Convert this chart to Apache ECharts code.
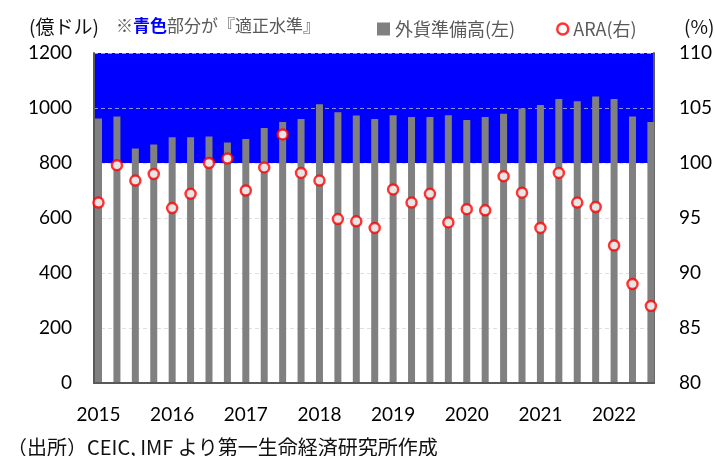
<!DOCTYPE html>
<html>
<head>
<meta charset="utf-8">
<script src="https://cdn.jsdelivr.net/npm/echarts@6/dist/echarts.min.js"></script>
<style>
  html, body { margin: 0; padding: 0; background: #fff; }
  #chart { width: 715px; height: 456px; }
</style>
</head>
<body>
<div id="chart"></div>
<script>
// 四半期 2015Q1 〜 2022Q3
const quarters = [
  '2015Q1', '2015Q2', '2015Q3', '2015Q4',
  '2016Q1', '2016Q2', '2016Q3', '2016Q4',
  '2017Q1', '2017Q2', '2017Q3', '2017Q4',
  '2018Q1', '2018Q2', '2018Q3', '2018Q4',
  '2019Q1', '2019Q2', '2019Q3', '2019Q4',
  '2020Q1', '2020Q2', '2020Q3', '2020Q4',
  '2021Q1', '2021Q2', '2021Q3', '2021Q4',
  '2022Q1', '2022Q2', '2022Q3'
]
// 外貨準備高 (億ドル)
const reserves = [
  962, 969, 853, 867, 894, 894, 896, 875,
  887, 927, 949, 960, 1014, 985, 973, 960,
  974, 967, 967, 974, 956, 967, 979, 998,
  1011, 1033, 1025, 1042, 1033, 969, 949
]
// ARA (%)
const ara = [
  96.4, 99.8, 98.4, 99.0, 95.9, 97.2, 100.0, 100.4,
  97.5, 99.6, 102.6, 99.1, 98.4, 94.9, 94.7, 94.1,
  97.6, 96.4, 97.2, 94.6, 95.8, 95.7, 98.8, 97.3,
  94.1, 99.1, 96.4, 96.0, 92.5, 89.0, 87.0
]
// 年ラベル (各年の第1四半期に表示)
const yearTicks = [0, 4, 8, 12, 16, 20, 24, 28]
// 適正水準の帯
const bandRange = [800, 1200]

const chart = echarts.init(document.getElementById('chart'))

const barData = reserves.map((v, i) => [i, v])
const araData = ara.map((v, i) => [i, v])

const jpFont = '"Noto Sans CJK JP", sans-serif'

const option = {
  animation: false,
  textStyle: { fontFamily: 'Lato, "Noto Sans CJK JP", sans-serif' },
  grid: { left: 94, right: 61, top: 53, bottom: 73 },
  title: [
    {
      text: '(億ドル)',
      left: 24, top: 12,
      textStyle: { fontSize: 19, fontWeight: 'normal', color: '#111', fontFamily: jpFont }
    },
    {
      text: '{a|※}{b|青色}{a|部分が『適正水準』}',
      left: 111, top: 12,
      textStyle: {
        fontWeight: 'normal',
        rich: {
          a: { fontSize: 17, color: '#595959', fontWeight: 'normal', fontFamily: jpFont },
          b: { fontSize: 17, color: '#0000ff', fontWeight: 'bold', fontFamily: jpFont }
        }
      }
    },
    {
      text: '(%)',
      left: 679, top: 12,
      textStyle: { fontSize: 19, fontWeight: 'normal', color: '#111', fontFamily: jpFont }
    },
    {
      text: '（出所）CEIC, IMF より第一生命経済研究所作成',
      left: 2, top: 432,
      textStyle: { fontSize: 20, fontWeight: 'normal', color: '#111', fontFamily: jpFont }
    }
  ],
  legend: [
    {
      left: 372, top: 15,
      itemWidth: 13, itemHeight: 13,
      textStyle: { fontSize: 18, color: '#595959', fontFamily: jpFont },
      data: [{ name: '外貨準備高(左)', icon: 'rect' }]
    },
    {
      left: 551, top: 15,
      itemWidth: 11, itemHeight: 11,
      textStyle: { fontSize: 18, color: '#595959', fontFamily: jpFont },
      data: [{ name: 'ARA(右)', icon: 'circle', itemStyle: { color: '#fff', borderColor: '#ff0000', borderWidth: 2.5 } }]
    }
  ],
  xAxis: {
    type: 'value',
    min: -0.245,
    max: 30.165,
    z: 3,
    splitLine: { show: false },
    axisTick: { show: false },
    axisLine: { show: true, onZero: false, lineStyle: { color: '#595959', width: 2 } },
    axisLabel: {
      customValues: yearTicks,
      margin: 22,
      fontSize: 19,
      color: '#000',
      formatter: v => quarters[Math.round(v)].slice(0, 4)
    }
  },
  yAxis: [
    {
      type: 'value',
      min: 0, max: 1200, interval: 200,
      z: 1.5,
      axisLine: { show: true, onZero: false, lineStyle: { color: '#595959', width: 2 } },
      axisTick: { show: false },
      axisLabel: { fontSize: 19, color: '#000', margin: 22, formatter: v => String(v) },
      splitLine: { lineStyle: { color: 'rgba(210,210,210,0.7)', type: [4, 3], width: 1 } }
    },
    {
      type: 'value',
      min: 80, max: 110, interval: 5,
      z: 1.5,
      axisLine: { show: true, onZero: false, lineStyle: { color: '#595959', width: 2 } },
      axisTick: { show: false },
      axisLabel: { fontSize: 19, color: '#000', margin: 25 },
      splitLine: { show: false }
    }
  ],
  series: [
    {
      name: 'band',
      type: 'line',
      data: [],
      z: 1,
      silent: true,
      markArea: {
        silent: true,
        z: 1,
        itemStyle: { color: '#0000ff' },
        data: [[{ yAxis: bandRange[0] }, { yAxis: bandRange[1] }]]
      }
    },
    {
      name: '外貨準備高(左)',
      type: 'bar',
      yAxisIndex: 0,
      barWidth: 7,
      z: 2,
      itemStyle: { color: '#808080' },
      data: barData
    },
    {
      name: 'ARA(右)',
      type: 'scatter',
      yAxisIndex: 1,
      symbol: 'circle',
      symbolSize: 10,
      z: 4,
      itemStyle: { color: '#fff', borderColor: '#ff0000', borderWidth: 2.5 },
      data: araData
    }
  ]
}

chart.setOption(option)
</script>
</body>
</html>
